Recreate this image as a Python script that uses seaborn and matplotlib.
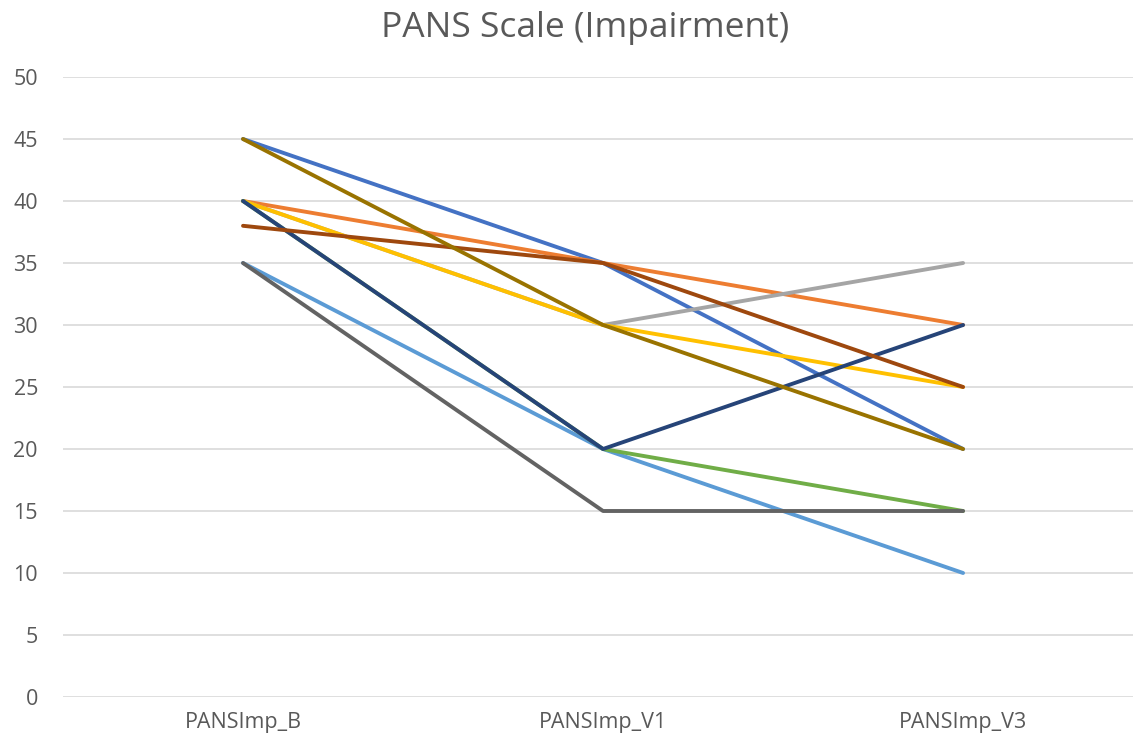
import matplotlib.pyplot as plt
import pandas as pd
import seaborn as sns

# Visits on the x axis
visits = ["PANSImp_B", "PANSImp_V1", "PANSImp_V3"]

# One list per participant (Excel default series order)
s1 = [45, 35, 20]
s2 = [40, 35, 30]
s3 = [40, 30, 35]
s4 = [40, 30, 25]
s5 = [35, 20, 10]
s6 = [40, 20, 15]
s7 = [40, 20, 30]
s8 = [38, 35, 25]
s9 = [35, 15, 15]
s10 = [45, 30, 20]

series = [s1, s2, s3, s4, s5, s6, s7, s8, s9, s10]
colors = ["#4472C4", "#ED7D31", "#A5A5A5", "#FFC000", "#5B9BD5",
          "#70AD47", "#264478", "#9E480E", "#636363", "#997300"]

rows = []
for i, vals in enumerate(series):
    for pos, v in enumerate(vals):
        rows.append({"series": f"S{i + 1}", "pos": pos, "value": v})
df = pd.DataFrame(rows)

sns.set_style("white")
plt.rcParams["font.family"] = ["Open Sans", "DejaVu Sans"]

fig = plt.figure(figsize=(11.33, 7.39), dpi=100)
ax = fig.add_axes([63 / 1133, 42 / 739, 1070 / 1133, 620 / 739])

sns.lineplot(data=df, x="pos", y="value", hue="series", palette=colors,
             sort=False, linewidth=2.8, legend=False, ax=ax, zorder=3)

ax.set_xlim(-0.5, 2.472)
ax.set_ylim(0, 50)
ax.set_yticks(range(0, 51, 5))
ax.set_xticks(range(len(visits)))
ax.set_xticklabels(visits)
ax.yaxis.grid(True, color="#D9D9D9", linewidth=1.2)
ax.xaxis.grid(False)
for sp in ax.spines.values():
    sp.set_visible(False)
ax.tick_params(axis="both", length=0, labelsize=15.5, colors="#595959")
ax.tick_params(axis="y", pad=18)
ax.tick_params(axis="x", pad=11)
ax.set_xlabel("")
ax.set_ylabel("")

fig.text(585 / 1133, 1 - 28 / 739, "PANS Scale (Impairment)", ha="center",
         va="center", fontsize=25.5, color="#595959")

fig.savefig("out.png", dpi=100)
